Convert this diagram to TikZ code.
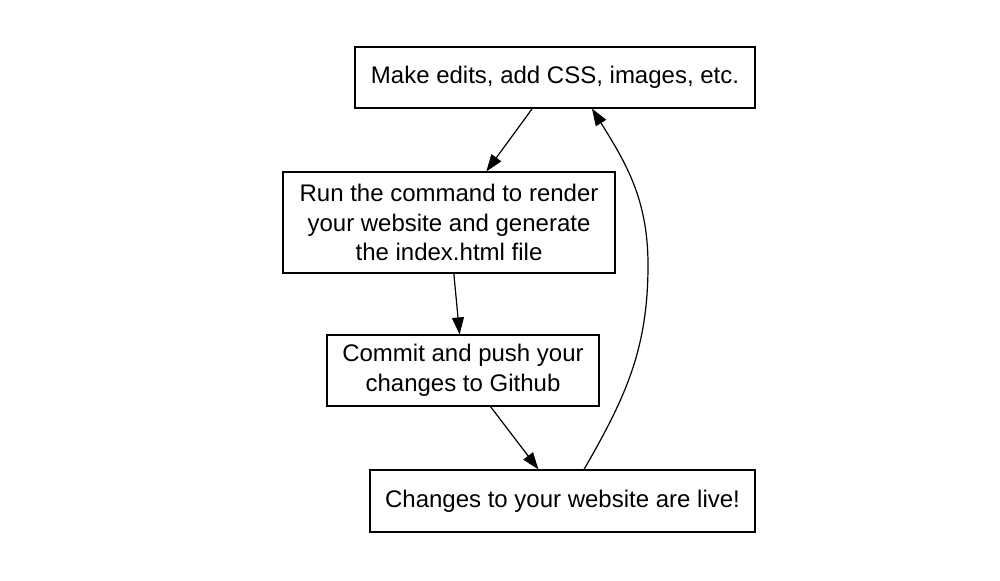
\documentclass[tikz,border=0pt]{standalone}
\usepackage{fontspec}
\setmainfont{Liberation Sans}
\usepackage{tikz}
\usetikzlibrary{arrows.meta, positioning}

\begin{document}
\begin{tikzpicture}
    [box/.style={rectangle, draw, line width=0.6pt, align=center, inner sep=0pt,
    font=\fontsize{12}{14.75}\selectfont},
    arrow/.style={line width=0.6pt, -{Triangle[length=8.5pt, width=6pt]}}]
    \useasboundingbox (0,0) rectangle (500pt,-290pt);
    \node [box, minimum width=200pt, minimum height=30.5pt] (edit) at (277.5pt,-38.75pt)
    {Make edits, add CSS, images, etc.};
    \node [box, below of=edit, node distance=72.5pt, xshift=-53pt, minimum width=166pt,
    minimum height=50.5pt] (render) {Run the command to render\\your website and generate\\the
    index.html file};
    \node [box, below of=render, node distance=74pt, xshift=7pt, minimum width=136pt,
    minimum height=35.5pt] (commit) {Commit and push your\\changes to Github};
    \node [box, below of=commit, node distance=65.25pt, xshift=49.75pt, minimum width=192.5pt,
    minimum height=31pt] (live) {Changes to your website are live!};
    \coordinate (loop) at (324pt,-132.5pt);

    \draw [arrow] (edit) -- (render);
    \draw [arrow] (render) -- (commit);
    \draw [arrow] (commit) -- (live);
    \draw [arrow] ([xshift=10.75pt]live.north) to [out=60, in=-90] (loop)
    to [out=90, in=-58] ([xshift=18.5pt]edit.south);
  \end{tikzpicture}
\end{document}
